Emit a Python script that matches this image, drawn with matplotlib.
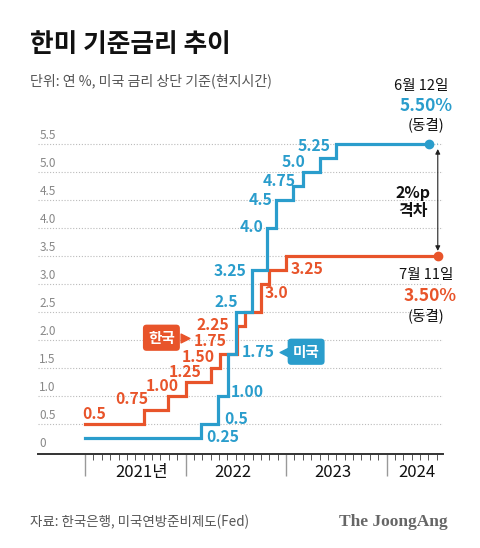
import numpy as np
import matplotlib
matplotlib.use("Agg")
import matplotlib.pyplot as plt
from matplotlib.ticker import FixedLocator
import matplotlib.transforms as mtransforms

plt.rcParams['font.family'] = ['Noto Sans CJK KR', 'DejaVu Sans']

# colours
ORANGE = '#E8542A'
BLUE = '#2A9DCC'

# --- data (decimal years) ---
us_dates = [2021.0, 2022.15, 2022.32, 2022.42, 2022.50, 2022.66, 2022.81,
            2022.90, 2023.07, 2023.17, 2023.34, 2023.50]
us_rates = [0.25, 0.5, 1.0, 1.75, 2.5, 3.25, 4.0, 4.5, 4.75, 5.0, 5.25, 5.5]
us_end = 2024.42   # 6월 12일

kr_dates = [2021.0, 2021.59, 2021.83, 2022.0, 2022.25, 2022.34, 2022.51,
            2022.59, 2022.75, 2022.83, 2023.0]
kr_rates = [0.5, 0.75, 1.0, 1.25, 1.5, 1.75, 2.25, 2.5, 3.0, 3.25, 3.5]
kr_end = 2024.51   # 7월 11일

# step labels: (text, x, y)
kr_labels = [("0.5", 2021.09, 0.68), ("0.75", 2021.47, 0.95), ("1.00", 2021.77, 1.18),
             ("1.25", 2022.00, 1.43), ("1.50", 2022.13, 1.70), ("1.75", 2022.25, 1.99),
             ("2.25", 2022.27, 2.27), ("3.0", 2022.91, 2.84), ("3.25", 2023.21, 3.27)]
us_labels = [("0.25", 2022.37, 0.27), ("0.5", 2022.50, 0.59), ("1.00", 2022.61, 1.07),
             ("1.75", 2022.72, 1.79), ("2.5", 2022.41, 2.68), ("3.25", 2022.44, 3.23),
             ("4.0", 2022.66, 4.02), ("4.5", 2022.75, 4.50), ("4.75", 2022.93, 4.84),
             ("5.0", 2023.07, 5.18), ("5.25", 2023.28, 5.46)]

grid_vals = [0.5, 1.0, 1.5, 2.0, 2.5, 3.0, 3.5, 4.0, 4.5, 5.0, 5.5]
ytick_text = ["0", "0.5", "1.0", "1.5", "2.0", "2.5", "3.0", "3.5", "4.0", "4.5", "5.0", "5.5"]
years = [2021, 2022, 2023, 2024]
year_text = ["2021년", "2022", "2023", "2024"]
year_label_x = [2021.56, 2022.47, 2023.47, 2024.30]

W, H = 480, 548
fig = plt.figure(figsize=(W / 100, H / 100), dpi=100)
fig.patch.set_facecolor('white')

def fx(px):
    return px / W

def fy(py):
    return 1 - py / H

ax = fig.add_axes([fx(38), fy(454), (443 - 38) / W, (454 - 140) / H])
ax.set_xlim(2020.532, 2024.562)
ax.set_ylim(-0.036, 5.571)

for s in ['top', 'right', 'left']:
    ax.spines[s].set_visible(False)
ax.spines['bottom'].set_color('#333333')
ax.spines['bottom'].set_linewidth(1.4)
ax.set_yticks([])

# x ticks: years (long) and months (short)
ax.xaxis.set_major_locator(FixedLocator(years))
months = [y + m / 12 for y in range(2021, 2025) for m in range(1, 12)]
months = [m for m in months if m <= 2024.51]
ax.xaxis.set_minor_locator(FixedLocator(months))
ax.tick_params(axis='x', which='major', length=16, width=1.0, color='#999999',
               labelbottom=False)
ax.tick_params(axis='x', which='minor', length=4.5, width=0.7, color='#555555')

# dotted grid
ax.hlines(grid_vals, 2020.532, 2024.562, colors='#bbbbbb', linestyles=(0, (1, 1.6)),
          linewidth=0.8, zorder=1)

# y labels sitting above gridlines
for v, t in zip([0] + grid_vals, ytick_text):
    ax.text(2020.545, v + 0.15, t, color='#888888', fontsize=8.5, va='center', ha='left')

# year labels
trans = mtransforms.blended_transform_factory(ax.transData, ax.transAxes)
for x, t in zip(year_label_x, year_text):
    ax.text(x, -0.058, t, transform=trans, ha='center', va='center',
            fontsize=12, color='#111111')

# step lines
ax.step(kr_dates + [kr_end], kr_rates + [kr_rates[-1]], where='post',
        color=ORANGE, lw=2.3, zorder=3, solid_joinstyle='miter')
ax.step(us_dates + [us_end], us_rates + [us_rates[-1]], where='post',
        color=BLUE, lw=2.3, zorder=4, solid_joinstyle='miter')
ax.plot([us_end, kr_end], [us_rates[-1], us_rates[-1]], color=BLUE, lw=1.5,
        ls=(0, (2, 2)), alpha=0.6, clip_on=False)
ax.scatter([us_end], [us_rates[-1]], s=36, color=BLUE, zorder=5, clip_on=False)
ax.scatter([kr_end], [kr_rates[-1]], s=36, color=ORANGE, zorder=5, clip_on=False)

for t, x, y in kr_labels:
    ax.text(x, y, t, color=ORANGE, fontsize=11.3, fontweight='bold',
            ha='center', va='center', zorder=6)
for t, x, y in us_labels:
    ax.text(x, y, t, color=BLUE, fontsize=11.3, fontweight='bold',
            ha='center', va='center', zorder=6)

# gap arrow
ax.annotate('', xy=(kr_end, 5.41), xytext=(kr_end, 3.59),
            arrowprops=dict(arrowstyle='<|-|>', color='#222222', lw=0.8,
                            mutation_scale=7, shrinkA=0, shrinkB=0),
            annotation_clip=False)

# callout boxes
ax.text(2021.76, 2.04, "한국", color='white', fontsize=10.5, fontweight='bold',
        ha='center', va='center', zorder=7,
        bbox=dict(boxstyle='round,pad=0.35,rounding_size=0.25', fc=ORANGE, ec='none'))
ax.scatter([2021.99], [2.04], marker='>', s=40, color=ORANGE, zorder=6)
ax.text(2023.20, 1.79, "미국", color='white', fontsize=10.5, fontweight='bold',
        ha='center', va='center', zorder=7,
        bbox=dict(boxstyle='round,pad=0.35,rounding_size=0.25', fc=BLUE, ec='none'))
ax.scatter([2022.98], [1.79], marker='<', s=40, color=BLUE, zorder=6)

# right-side annotations
fig.text(fx(421), fy(86), "6월 12일", fontsize=10.5, ha='center', va='center', color='#111111')
fig.text(fx(426), fy(106), "5.50%", fontsize=12.5, fontweight='bold', ha='center',
         va='center', color=BLUE)
fig.text(fx(426), fy(125), "(동결)", fontsize=10.5, ha='center', va='center', color='#111111')
fig.text(fx(413), fy(193), "2%p", fontsize=11.5, fontweight='bold', ha='center',
         va='center', color='#111111')
fig.text(fx(413), fy(211), "격차", fontsize=11.5, fontweight='bold', ha='center',
         va='center', color='#111111')
fig.text(fx(426), fy(275), "7월 11일", fontsize=10.5, ha='center', va='center', color='#111111')
fig.text(fx(430), fy(296), "3.50%", fontsize=12.5, fontweight='bold', ha='center',
         va='center', color=ORANGE)
fig.text(fx(426), fy(316), "(동결)", fontsize=10.5, ha='center', va='center', color='#111111')

# title, subtitle, footer
fig.text(fx(30), fy(44), "한미 기준금리 추이", fontsize=18.5, fontweight='bold',
         ha='left', va='center', color='#111111')
fig.text(fx(30), fy(81), "단위: 연 %, 미국 금리 상단 기준(현지시간)", fontsize=10.1,
         ha='left', va='center', color='#555555')
fig.text(fx(30), fy(522), "자료: 한국은행, 미국연방준비제도(Fed)", fontsize=9.7,
         ha='left', va='center', color='#555555')
fig.text(fx(448), fy(522), "The JoongAng", fontsize=12.5, fontweight='bold',
         family='Liberation Serif', ha='right', va='center', color='#666666')

fig.savefig("out.png", dpi=100, facecolor='white')
